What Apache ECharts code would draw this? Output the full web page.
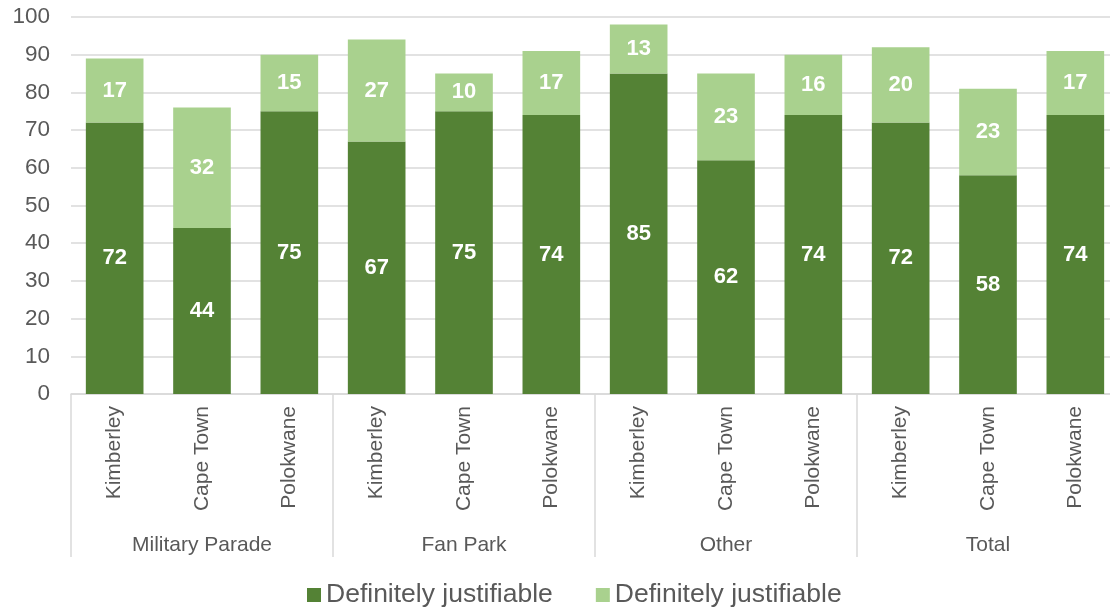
<!DOCTYPE html>
<html>
<head>
<meta charset="utf-8">
<script src="https://cdn.jsdelivr.net/npm/echarts@6/dist/echarts.min.js"></script>
<style>
  html, body { margin: 0; padding: 0; background: #fff; overflow: hidden; }
  #chart { width: 1110px; height: 609px; }
</style>
</head>
<body>
<div id="chart"></div>
<script>
// Sites within each event group
const sites = ['Kimberley', 'Cape Town', 'Polokwane',
               'Kimberley', 'Cape Town', 'Polokwane',
               'Kimberley', 'Cape Town', 'Polokwane',
               'Kimberley', 'Cape Town', 'Polokwane'];
const groups = ['Military Parade', 'Fan Park', 'Other', 'Total'];

// Stacked shares (%)
const darkValues  = [72, 44, 75, 67, 75, 74, 85, 62, 74, 72, 58, 74];
const lightValues = [17, 32, 15, 27, 10, 17, 13, 23, 16, 20, 23, 17];

const seriesLabels = ['Definitely justifiable', 'Definitely justifiable'];
const yTicks = { min: 0, max: 100, interval: 10 };

const FONT = '"Liberation Sans", Arial, sans-serif';
const TEXT = '#595959';
const LINE = '#d9d9d9';
const DARK = '#548235';
const LIGHT = '#a9d18e';

const legendNames = { s1: seriesLabels[0], s2: seriesLabels[1] };

const chart = echarts.init(document.getElementById('chart'), null, { renderer: 'canvas' });

const barLabel = {
  show: true,
  position: 'inside',
  color: '#ffffff',
  fontWeight: 'bold',
  fontSize: 22,
  fontFamily: FONT
};

chart.setOption({
  animation: false,
  textStyle: { fontFamily: FONT },
  // the plot runs slightly past the right edge of the canvas
  grid: { left: 71, width: 1048, top: 17, height: 377, outerBoundsMode: 'none' },
  legend: {
    data: ['s1', 's2'],
    left: 307,
    top: 580,
    padding: 0,
    itemWidth: 14,
    itemHeight: 14,
    itemGap: 43,
    icon: 'rect',
    formatter: name => legendNames[name],
    textStyle: { color: TEXT, fontSize: 26.5, fontFamily: FONT, lineHeight: 30 }
  },
  xAxis: [
    {
      type: 'category',
      data: sites,
      position: 'bottom',
      axisLine: { show: true, lineStyle: { color: LINE, width: 1.5 } },
      axisTick: { show: false },
      axisLabel: {
        rotate: 90,
        margin: 12,
        color: TEXT,
        fontSize: 21,
        fontFamily: FONT,
        interval: 0
      }
    },
    {
      type: 'category',
      data: groups,
      position: 'bottom',
      axisLine: { show: false },
      axisTick: { show: true, length: 163, interval: 0, lineStyle: { color: LINE, width: 1.5 } },
      axisLabel: {
        margin: 141,
        color: TEXT,
        fontSize: 21,
        fontFamily: FONT,
        interval: 0
      },
      splitLine: { show: false }
    }
  ],
  yAxis: {
    type: 'value',
    min: yTicks.min,
    max: yTicks.max,
    interval: yTicks.interval,
    axisLine: { show: false },
    axisTick: { show: false },
    axisLabel: { color: TEXT, fontSize: 22.5, fontFamily: FONT, margin: 21 },
    splitLine: { lineStyle: { color: LINE, width: 1.5 } }
  },
  series: [
    {
      name: 's1',
      type: 'bar',
      stack: 'total',
      xAxisIndex: 0,
      barWidth: '66%',
      data: darkValues,
      itemStyle: { color: DARK },
      label: barLabel
    },
    {
      name: 's2',
      type: 'bar',
      stack: 'total',
      xAxisIndex: 0,
      barWidth: '66%',
      data: lightValues,
      itemStyle: { color: LIGHT },
      label: barLabel
    }
  ]
});
</script>
</body>
</html>
